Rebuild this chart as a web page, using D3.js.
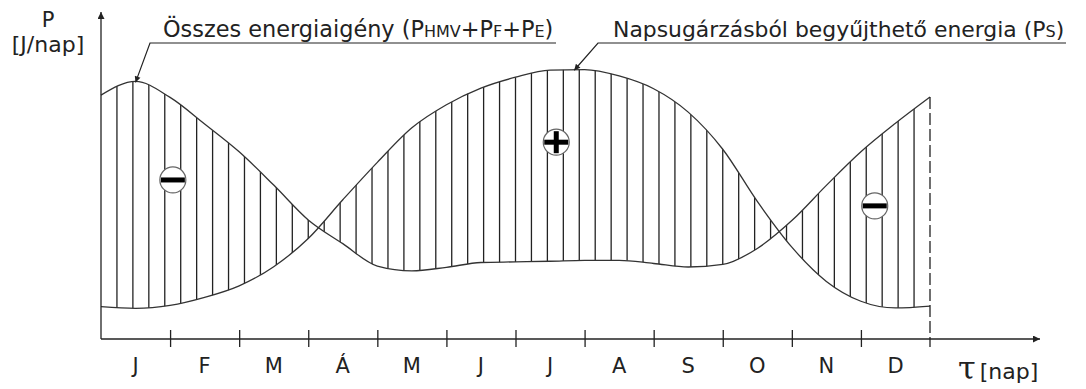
<!DOCTYPE html>
<html>
<head>
<meta charset="utf-8">
<script src="https://cdn.jsdelivr.net/npm/d3@7"></script>
<style>
  html, body { margin: 0; padding: 0; background: #fff; }
  svg text { font-family: "DejaVu Sans", Verdana, sans-serif; fill: #222; }
</style>
</head>
<body>
<div id="chart"></div>
<script>
// month labels along the time axis
const monthLabels = ["J", "F", "M", "Á", "M", "J", "J", "A", "S", "O", "N", "D"];
// sample positions in months (0 = start of January, 12 = end of December)
const samplePos = [0, 0.5, 1, 1.5, 2, 2.5, 3, 3.5, 4, 4.5, 5, 5.5, 6, 6.5, 7, 7.5, 8, 8.5, 9, 9.5, 10, 10.5, 11, 11.5, 12];
// total energy demand (P_HMV + P_F + P_E), arbitrary units
const demand = [76.2, 80.5, 75.5, 67.2, 58.5, 48.1, 37.2, 29.8, 22.8, 21.3, 22.4, 23.9, 24.1, 24.3, 24.6, 24.6, 23.6, 22.5, 23.3, 28.3, 37.0, 48.0, 58.5, 67.4, 75.6];
// collectable solar energy (P_S), arbitrary units
const solar = [10.1, 9.6, 10.5, 13.0, 16.6, 22.6, 31.4, 43.5, 55.2, 66.0, 73.2, 78.4, 81.8, 84.0, 84.2, 82.2, 78.2, 70.9, 59.3, 43.0, 28.7, 18.0, 11.8, 9.7, 10.3];
// deficit / surplus markers
const signs = [
  { m: 1.04, v: 49.7, sign: "-" },
  { m: 6.59, v: 61.5, sign: "+" },
  { m: 11.2, v: 41.6, sign: "-" }
];
const weeksPerYear = 52;

const width = 1086, height = 389;
const ink = "#222";

const svg = d3.select("#chart").append("svg")
    .attr("width", width).attr("height", height);

const x = d3.scaleLinear().domain([0, 12]).range([101, 930]);
const xWeek = d3.scaleLinear().domain([0, weeksPerYear]).range([101, 930]);
const y = d3.scaleLinear().domain([0, 100]).range([339, 19]);

const pts = samplePos.map((m, i) => ({ m, d: demand[i], s: solar[i] }));

// arrow markers
const defs = svg.append("defs");
defs.append("marker").attr("id", "arr")
    .attr("viewBox", "0 0 10 10").attr("refX", 10).attr("refY", 5)
    .attr("markerWidth", 16).attr("markerHeight", 7).attr("markerUnits", "userSpaceOnUse")
    .attr("orient", "auto")
  .append("path").attr("d", "M0,0L10,5L0,10Z").attr("fill", ink);
defs.append("marker").attr("id", "lead")
    .attr("viewBox", "0 0 10 10").attr("refX", 10).attr("refY", 5)
    .attr("markerWidth", 12).attr("markerHeight", 6).attr("markerUnits", "userSpaceOnUse")
    .attr("orient", "auto")
  .append("path").attr("d", "M0,0L10,5L0,10Z").attr("fill", ink);

// area between the two curves used to clip the hatching
const between = d3.area()
    .x(d => x(d.m)).y0(d => y(d.d)).y1(d => y(d.s))
    .curve(d3.curveMonotoneX);
defs.append("clipPath").attr("id", "gap")
  .append("path").attr("d", between(pts));

// weekly hatching
svg.append("g").attr("clip-path", "url(#gap)")
  .selectAll("line")
  .data(d3.range(1, weeksPerYear))
  .join("line")
    .attr("x1", d => xWeek(d)).attr("x2", d => xWeek(d))
    .attr("y1", y(100)).attr("y2", y(0))
    .attr("stroke", ink).attr("stroke-width", 1.3);

// curves
const lineDemand = d3.line().x(d => x(d.m)).y(d => y(d.d)).curve(d3.curveMonotoneX);
const lineSolar = d3.line().x(d => x(d.m)).y(d => y(d.s)).curve(d3.curveMonotoneX);
svg.append("path").attr("d", lineDemand(pts))
    .attr("fill", "none").attr("stroke", "#333").attr("stroke-width", 1.3);
svg.append("path").attr("d", lineSolar(pts))
    .attr("fill", "none").attr("stroke", "#333").attr("stroke-width", 1.3);

// x axis with month boundary ticks
const xAxis = svg.append("g").attr("transform", `translate(0,${y(0)})`)
    .call(d3.axisBottom(x).tickValues(d3.range(1, 12)).tickSize(8).tickFormat(""));
xAxis.select(".domain").remove();
xAxis.selectAll(".tick line").attr("y1", -9).attr("stroke", ink).attr("stroke-width", 1.3);
svg.append("line")
    .attr("x1", x(0)).attr("x2", 1040).attr("y1", y(0)).attr("y2", y(0))
    .attr("stroke", ink).attr("stroke-width", 1.3).attr("marker-end", "url(#arr)");

// month labels centred in each month
const band = d3.scaleBand().domain(d3.range(12)).range([x(0), x(12)]);
const mAxis = svg.append("g").attr("transform", `translate(0,${y(0)})`)
    .call(d3.axisBottom(band).tickSize(0).tickPadding(19).tickFormat(i => monthLabels[i]));
mAxis.select(".domain").remove();
mAxis.selectAll("text").style("font-size", "21px").attr("fill", ink)
    .style("font-family", "DejaVu Sans, Verdana, sans-serif");

// dashed end-of-year line
svg.append("line")
    .attr("x1", x(12)).attr("x2", x(12))
    .attr("y1", y(demand[demand.length - 1])).attr("y2", y(0) + 8)
    .attr("stroke", ink).attr("stroke-width", 1.3).attr("stroke-dasharray", "12,4");

// y axis
svg.append("line")
    .attr("x1", x(0)).attr("x2", x(0)).attr("y1", y(0)).attr("y2", 12)
    .attr("stroke", ink).attr("stroke-width", 1.3).attr("marker-end", "url(#arr)");

// axis titles
svg.append("text").attr("x", 48).attr("y", 27).attr("text-anchor", "middle")
    .style("font-size", "21px").text("P");
svg.append("text").attr("x", 48).attr("y", 52).attr("text-anchor", "middle")
    .style("font-size", "22px").text("[J/nap]");
const tau = svg.append("text").attr("x", 958).attr("y", 379);
tau.append("tspan").style("font-size", "32px").style("font-family", "DejaVu Serif, serif").text("τ");
tau.append("tspan").attr("dx", 4).style("font-size", "22px").text("[nap]");

// leader labels
const lbl1 = svg.append("text").attr("x", 163).attr("y", 37).style("font-size", "22.4px");
lbl1.append("tspan").text("Összes energiaigény (P");
lbl1.append("tspan").style("font-size", "16px").text("HMV");
lbl1.append("tspan").text("+P");
lbl1.append("tspan").style("font-size", "16px").text("F");
lbl1.append("tspan").text("+P");
lbl1.append("tspan").style("font-size", "16px").text("E");
lbl1.append("tspan").text(")");

const lbl2 = svg.append("text").attr("x", 613).attr("y", 37).style("font-size", "21.9px");
lbl2.append("tspan").text("Napsugárzásból begyűjthető energia (P");
lbl2.append("tspan").style("font-size", "16px").text("S");
lbl2.append("tspan").text(")");

svg.append("path")
    .attr("d", `M556,43L150,43L${x(samplePos[1])},${y(demand[1]) + 1}`)
    .attr("fill", "none").attr("stroke", ink).attr("stroke-width", 1.2)
    .attr("marker-end", "url(#lead)");
svg.append("path")
    .attr("d", `M1066,43L598,43L${x(6.85)},${y(84.3) + 1}`)
    .attr("fill", "none").attr("stroke", ink).attr("stroke-width", 1.2)
    .attr("marker-end", "url(#lead)");

// sign markers
const sg = svg.selectAll("g.sign").data(signs).join("g")
    .attr("class", "sign")
    .attr("transform", d => `translate(${x(d.m)},${y(d.v)})`);
sg.append("circle").attr("r", 13).attr("fill", "#fff").attr("stroke", "#666").attr("stroke-width", 1.2);
sg.append("rect").attr("x", -12).attr("y", -2.5).attr("width", 24).attr("height", 5).attr("fill", "#000");
sg.filter(d => d.sign === "+").append("rect")
    .attr("x", -2.5).attr("y", -11).attr("width", 5).attr("height", 22).attr("fill", "#000");
</script>
</body>
</html>
